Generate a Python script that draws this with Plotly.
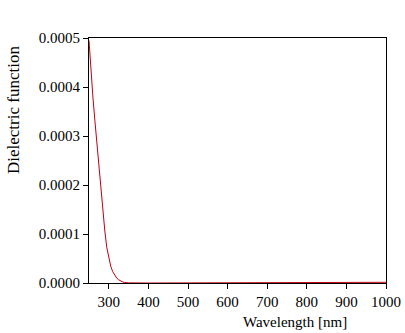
import plotly.graph_objects as go

wavelength = [250, 255, 260, 265, 270, 275, 280, 285, 290, 295, 300, 305, 310, 315, 320,
              325, 330, 335, 340, 350, 400, 500, 600, 700, 800, 890, 900, 950, 1000]
eps = [0.000495, 0.000432, 0.000378, 0.000330, 0.000283, 0.000240, 0.000195, 0.000150,
       0.000106, 0.000072, 0.000049, 0.000034, 0.000023, 0.000015, 0.000010,
       0.0000065, 0.000004, 0.0000022, 0.000001, 0.0000003, 0.0, 0.0, 0.0, 0.0, 0.0,
       0.0000008, 0.0000012, 0.0000013, 0.0000014]

x_ticks = [300, 400, 500, 600, 700, 800, 900, 1000]
y_ticks = [0, 0.0001, 0.0002, 0.0003, 0.0004, 0.0005]
y_labels = ["0.0000", "0.0001", "0.0002", "0.0003", "0.0004", "0.0005"]

font = dict(family="Liberation Serif, Times New Roman, serif", size=15, color="black")
ytitle_font = dict(family="Liberation Serif, Times New Roman, serif", size=17, color="black")

fig = go.Figure()
fig.add_trace(go.Scatter(x=wavelength, y=eps, mode="lines",
                         line=dict(color="#C00010", width=1), showlegend=False))

fig.update_layout(
    width=405, height=333,
    margin=dict(l=89, r=19, t=38, b=50, autoexpand=False),
    paper_bgcolor="white", plot_bgcolor="white",
    font=font,
    xaxis=dict(range=[250, 1000], tickvals=x_ticks, ticks="outside", ticklen=5,
               tickcolor="black", showgrid=False, zeroline=False, automargin=False,
               showline=True, linecolor="black", linewidth=1, mirror=True,
               tickfont=font),
    yaxis=dict(range=[0, 0.0005], tickvals=y_ticks, ticktext=y_labels,
               ticks="outside", ticklen=5, tickcolor="black", showgrid=False,
               zeroline=False, showline=True, linecolor="black", linewidth=1,
               mirror=True, tickfont=font, automargin=False),
    annotations=[
        dict(text="Wavelength [nm]", xref="paper", yref="paper", x=0.695, y=-0.12,
             xanchor="center", yanchor="top", showarrow=False, font=font),
        dict(text="Dielectric function", xref="paper", yref="paper", x=-0.256, y=0.706,
             xanchor="center", yanchor="middle", textangle=-90, showarrow=False,
             font=ytitle_font),
    ],
)

fig.write_html("out.html")
